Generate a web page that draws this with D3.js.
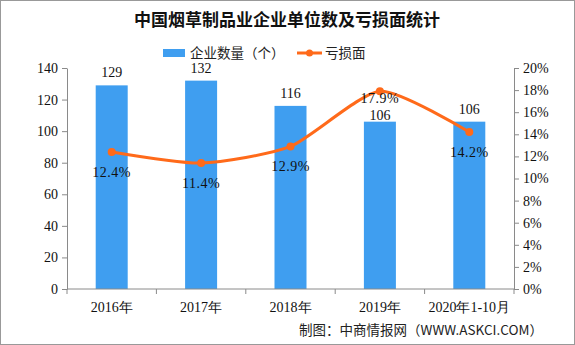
<!DOCTYPE html>
<html><head><meta charset="utf-8">
<script src="https://cdn.jsdelivr.net/npm/d3@7"></script>
<style>body{margin:0;background:#fff}svg{display:block}</style>
</head><body><svg id="c" width="575" height="345"></svg>
<script>
const categories = ["2016年","2017年","2018年","2019年","2020年1-10月"];
const companies = [129,132,116,106,106];
const lossRate = [12.4,11.4,12.9,17.9,14.2];
const leftTicks = [0,20,40,60,80,100,120,140];
const rightTicks = [0,2,4,6,8,10,12,14,16,18,20];

const svg = d3.select("#c");
const W=575,H=345;
const m={l:67,r:514,t:68,b:289};
const blue="#3f9ef0", orange="#ff6a1a", axisC="#8a8a8a";
const serif="'Liberation Serif','DejaVu Serif',serif";
const cjk="'Noto Sans CJK SC',sans-serif";

svg.append("rect").attr("x",0.5).attr("y",0.5).attr("width",W-1).attr("height",H-1).attr("fill","#fff").attr("stroke","#999");

const x=d3.scaleBand().domain(categories).range([m.l,m.r]);
const yL=d3.scaleLinear().domain([0,140]).range([m.b,m.t]);
const yR=d3.scaleLinear().domain([0,20]).range([m.b,m.t]);

// title
svg.append("text").attr("x",287).attr("y",26).attr("text-anchor","middle")
  .attr("font-family",cjk).attr("font-weight","bold").attr("font-size",17).attr("fill","#111")
  .text("中国烟草制品业企业单位数及亏损面统计");

// legend
svg.append("rect").attr("x",163).attr("y",49).attr("width",22).attr("height",8).attr("fill",blue);
svg.append("text").attr("x",190).attr("y",58).attr("font-family",cjk).attr("font-size",13.5).attr("fill","#222").text("企业数量（个）");
svg.append("line").attr("x1",297).attr("x2",322).attr("y1",53).attr("y2",53).attr("stroke",orange).attr("stroke-width",3);
svg.append("circle").attr("cx",309.5).attr("cy",53).attr("r",3.5).attr("fill",orange);
svg.append("text").attr("x",325).attr("y",58).attr("font-family",cjk).attr("font-size",13.5).attr("fill","#222").text("亏损面");

// axes
function styleAxis(g){
  g.selectAll(".domain,line").attr("stroke",axisC);
  g.selectAll("text").attr("font-family",serif).attr("font-size",14).attr("fill","#111");
}
svg.append("g").attr("transform",`translate(${m.l},0)`)
  .call(d3.axisLeft(yL).tickValues(leftTicks).tickSize(5).tickSizeOuter(0).tickPadding(4))
  .call(styleAxis);
svg.append("g").attr("transform",`translate(${m.r},0)`)
  .call(d3.axisRight(yR).tickValues(rightTicks).tickSize(5).tickSizeOuter(0).tickPadding(4).tickFormat(d=>d+"%"))
  .call(styleAxis);

// bars
const bw=32;
svg.append("g").selectAll("rect").data(companies).join("rect")
  .attr("x",(d,i)=>x(categories[i])+x.bandwidth()/2-bw/2)
  .attr("width",bw).attr("y",d=>yL(d)).attr("height",d=>m.b-yL(d)).attr("fill",blue);

// x axis
const xg=svg.append("g").attr("transform",`translate(0,${m.b})`);
xg.append("line").attr("x1",m.l).attr("x2",m.r).attr("stroke",axisC);
const bounds=categories.map(c=>x(c)).concat([m.r]);
xg.selectAll("line.t").data(bounds).join("line").attr("class","t")
  .attr("x1",d=>d).attr("x2",d=>d).attr("y1",0).attr("y2",5).attr("stroke",axisC);
xg.selectAll("text").data(categories).join("text")
  .attr("x",d=>x(d)+x.bandwidth()/2).attr("y",23).attr("text-anchor","middle")
  .attr("font-family",serif).attr("font-size",14).attr("fill","#111").text(d=>d);

// line
const pts=lossRate.map((v,i)=>[x(categories[i])+x.bandwidth()/2,yR(v)]);
// line label positions: below point, tighter when it would hit the bar label
const lineLabY=pts.map((p,i)=>{
  const barLab=yL(companies[i])-8;
  let ly=p[1]+25;
  if(p[1]<barLab && ly>barLab-14) ly=p[1]+12;
  return ly;
});
const barLabY=companies.map((v,i)=>{
  let by=yL(v)-8;
  if(by-11<lineLabY[i] && by>pts[i][1]) by=yL(v)-2;
  return by;
});

// bar labels
svg.append("g").selectAll("text").data(companies).join("text")
  .attr("x",(d,i)=>x(categories[i])+x.bandwidth()/2).attr("y",(d,i)=>barLabY[i])
  .attr("text-anchor","middle").attr("font-family",serif).attr("font-size",14).attr("fill","#111").text(d=>d);

svg.append("path").attr("d",d3.line().curve(d3.curveCardinal.tension(0.35))(pts))
  .attr("fill","none").attr("stroke",orange).attr("stroke-width",3);
svg.append("g").selectAll("circle").data(pts).join("circle")
  .attr("cx",d=>d[0]).attr("cy",d=>d[1]).attr("r",4).attr("fill",orange);
svg.append("g").selectAll("text").data(lossRate).join("text")
  .attr("x",(d,i)=>pts[i][0]).attr("y",(d,i)=>lineLabY[i])
  .attr("text-anchor","middle").attr("font-family",serif).attr("font-size",14).attr("letter-spacing",0.5).attr("fill","#111")
  .text(d=>d.toFixed(1)+"%");

// footer
svg.append("text").attr("x",543).attr("y",335).attr("text-anchor","end")
  .attr("font-family",cjk).attr("font-size",13.5).attr("fill","#222").text("制图：中商情报网（WWW.ASKCI.COM）");
</script></body></html>
